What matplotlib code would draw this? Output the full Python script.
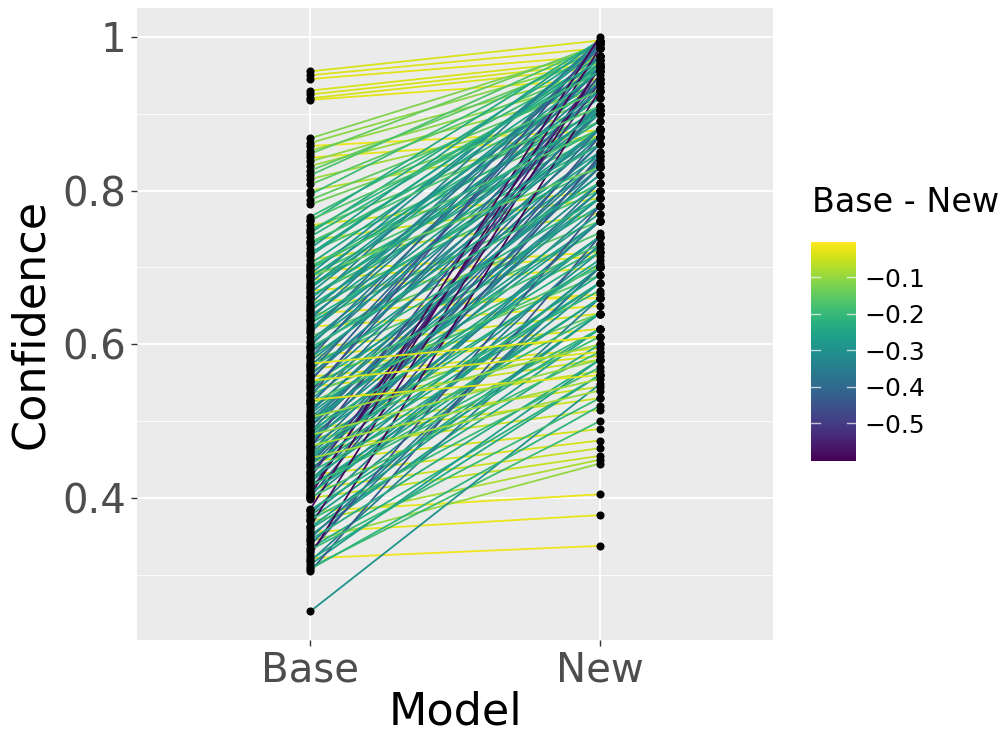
import matplotlib
matplotlib.use("Agg")
import matplotlib.pyplot as plt
from matplotlib.collections import LineCollection
from matplotlib.colors import Normalize
import matplotlib.cm as cm
import numpy as np

# confidence per example: base model vs new model
base = [
    0.955, 0.950, 0.945, 0.930, 0.925, 0.920, 0.918,
    0.868, 0.862, 0.858, 0.852, 0.848, 0.843, 0.838, 0.832,
    0.826, 0.820, 0.815, 0.808, 0.800, 0.795, 0.788, 0.782,
    0.766, 0.760, 0.755, 0.750, 0.745, 0.740, 0.735, 0.730, 0.725, 0.720,
    0.715, 0.710, 0.705, 0.700,
    0.698, 0.695, 0.692, 0.690, 0.687, 0.684, 0.680, 0.677, 0.673, 0.670,
    0.667, 0.663, 0.660, 0.657, 0.653, 0.650, 0.647, 0.643, 0.640, 0.637,
    0.633, 0.630, 0.627, 0.623, 0.620, 0.615, 0.610, 0.605,
    0.598, 0.595, 0.592, 0.588, 0.585, 0.582, 0.578, 0.575, 0.572, 0.568,
    0.565, 0.562, 0.558, 0.555, 0.552, 0.548, 0.545, 0.542, 0.538, 0.535,
    0.532, 0.528, 0.525, 0.522, 0.518, 0.515, 0.512, 0.508, 0.505, 0.502,
    0.500, 0.497,
    0.495, 0.492, 0.490, 0.487, 0.484, 0.481, 0.478, 0.475, 0.472, 0.469,
    0.466, 0.463, 0.460, 0.457, 0.454, 0.451, 0.448, 0.445, 0.442, 0.439,
    0.436, 0.433, 0.430, 0.427, 0.424, 0.421, 0.418, 0.415, 0.412, 0.409,
    0.406, 0.404, 0.402, 0.400, 0.399,
    0.386, 0.383, 0.380, 0.377, 0.373, 0.370, 0.364, 0.360, 0.356, 0.352,
    0.348, 0.344, 0.340, 0.335, 0.330, 0.326, 0.322, 0.318, 0.314, 0.310,
    0.305,
    0.253,
    0.762, 0.748, 0.733, 0.718, 0.702,
    0.688, 0.675, 0.662, 0.645, 0.632, 0.618, 0.602,
    0.596, 0.583, 0.570, 0.560, 0.546, 0.536, 0.524, 0.510, 0.499,
    0.488, 0.476, 0.465, 0.455, 0.444, 0.434, 0.425, 0.416, 0.407, 0.401,
    0.385, 0.372, 0.362, 0.346, 0.333, 0.320, 0.308,
    0.575, 0.553, 0.528, 0.505, 0.482, 0.468, 0.452,
]
new = [
    0.995, 0.985, 0.975, 0.970, 0.965, 0.960, 0.945,
    0.985, 0.970, 0.878, 0.955, 0.990, 0.870, 0.945, 0.930,
    0.975, 0.990, 0.905, 0.960, 0.870, 0.985, 0.940, 0.920,
    0.965, 0.995, 0.800, 0.900, 0.985, 0.960, 0.790, 0.935, 0.995, 0.890,
    0.975, 0.770, 0.960, 0.920,
    0.905, 0.720, 0.985, 0.870, 0.945, 0.715, 0.990, 0.880, 0.940, 0.700,
    0.965, 0.860, 0.920, 0.660, 0.995, 0.890, 0.830, 0.955, 0.665, 0.910,
    0.975, 0.800, 0.870, 0.650, 0.940, 0.985, 0.760, 0.900,
    0.960, 0.640, 0.850, 0.930, 0.620, 0.990, 0.880, 0.745, 0.910, 0.610,
    0.960, 0.835, 0.595, 0.900, 0.975, 0.780, 0.585, 0.870, 0.940, 0.690,
    0.995, 0.820, 0.580, 0.905, 0.725, 0.830, 0.860, 0.565, 0.810, 0.760,
    0.840, 0.640,
    0.800, 0.880, 0.545, 0.860, 0.790, 0.760, 0.530, 0.850, 0.800, 0.705,
    0.950, 0.515, 0.830, 0.780, 0.740, 0.740, 0.490, 0.840, 0.810, 0.680,
    0.760, 0.870, 0.475, 0.940, 0.760, 0.720, 0.620, 0.660, 0.465, 0.960,
    0.700, 1.000, 0.845, 0.455, 0.700,
    0.985, 0.405, 0.730, 0.680, 0.640, 0.450, 0.960, 0.600, 0.378, 0.620,
    0.700, 0.445, 0.700, 0.560, 0.780, 0.930, 0.338, 0.660, 0.580, 0.500,
    0.740,
    0.548,
    0.930, 0.955, 0.910, 0.970, 0.880,
    0.830, 0.955, 0.900, 0.930, 0.860, 0.905, 0.880,
    0.810, 0.845, 0.790, 0.880, 0.730, 0.820, 0.700, 0.790, 0.770,
    0.720, 0.740, 0.670, 0.710, 0.690, 0.640, 0.680, 0.610, 0.660, 0.590,
    0.620, 0.570, 0.640, 0.580, 0.530, 0.560, 0.520,
    0.610, 0.590, 0.560, 0.600, 0.580, 0.555, 0.540,
]

base = np.array(base)
new = np.array(new)
diff = base - new

fig = plt.figure(figsize=(10.06, 7.34), dpi=100)
ax = fig.add_axes([137 / 1006, 1 - 640 / 734, (773 - 137) / 1006, (640 - 8) / 734])
ax.set_facecolor("#EBEBEB")

# gridlines ggplot style
for v in [0.3, 0.5, 0.7, 0.9]:
    ax.axhline(v, color="white", lw=0.6, zorder=0)
for v in [0.4, 0.6, 0.8, 1.0]:
    ax.axhline(v, color="white", lw=1.3, zorder=0)
for v in [1, 2]:
    ax.axvline(v, color="white", lw=1.3, zorder=0)

norm = Normalize(vmin=diff.min(), vmax=diff.max())
segs = [[(1, b), (2, n)] for b, n in zip(base, new)]
lc = LineCollection(segs, cmap="viridis", norm=norm, linewidths=1.3, zorder=2)
lc.set_array(diff)
ax.add_collection(lc)

ax.scatter(np.ones_like(base), base, s=34, color="black", zorder=3, linewidths=0)
ax.scatter(np.full_like(new, 2), new, s=34, color="black", zorder=3, linewidths=0)

lo, hi = min(base.min(), new.min()), max(base.max(), new.max())
pad = (hi - lo) * 0.05
ax.set_ylim(lo - pad, hi + pad)
ax.set_xlim(0.4, 2.6)

ax.set_xticks([1, 2])
ax.set_xticklabels(["Base", "New"])
ax.set_yticks([0.4, 0.6, 0.8, 1.0])
ax.set_yticklabels(["0.4", "0.6", "0.8", "1"])
ax.tick_params(axis="both", labelsize=29, labelcolor="#4D4D4D", color="#333333",
               length=4, width=1.0)
for s in ax.spines.values():
    s.set_visible(False)
ax.set_xlabel("Model", fontsize=32, labelpad=0)
ax.set_ylabel("Confidence", fontsize=32, labelpad=8)

# colourbar legend
cax = fig.add_axes([811 / 1006, 1 - 461 / 734, 45 / 1006, (461 - 242) / 734])
sm = cm.ScalarMappable(norm=norm, cmap="viridis")
cb = fig.colorbar(sm, cax=cax)
cb.outline.set_visible(False)
cticks = [-0.5, -0.4, -0.3, -0.2, -0.1]
cb.set_ticks(cticks)
cb.set_ticklabels(["\u22120.5", "\u22120.4", "\u22120.3", "\u22120.2", "\u22120.1"])
cax.tick_params(length=0, labelsize=18, pad=6)
for v in cticks:
    cax.plot([0, 0.2], [v, v], color="white", lw=1, alpha=0.7,
             transform=cax.get_yaxis_transform())
    cax.plot([0.8, 1.0], [v, v], color="white", lw=1, alpha=0.7,
             transform=cax.get_yaxis_transform())
fig.text(812 / 1006, 1 - 203 / 734, "Base - New", fontsize=24, va="center", ha="left")

fig.savefig("out.png", dpi=100, facecolor="white")
